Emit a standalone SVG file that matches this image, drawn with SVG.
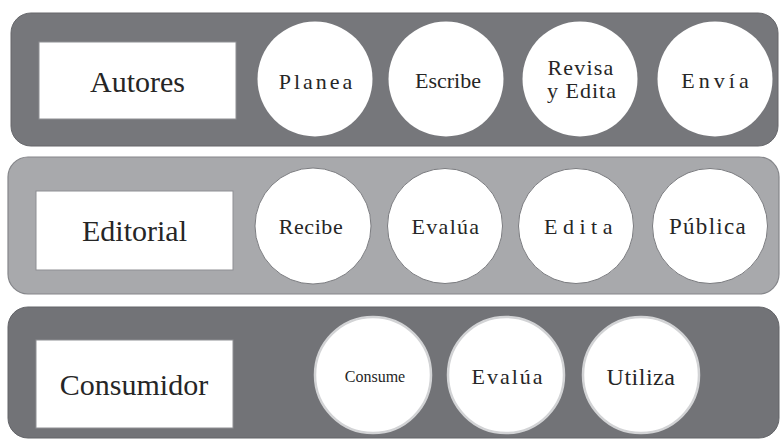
<svg xmlns="http://www.w3.org/2000/svg" width="780" height="439" viewBox="0 0 780 439">
<style>
text{font-family:'Liberation Serif','Times New Roman',serif;fill:#262626;text-anchor:middle}
.lbl{font-size:30px}
.c{font-size:22px}
.band1{fill:#76777b;stroke:#66676b;stroke-width:1}
.band2{fill:#a8a9ac;stroke:#85868a;stroke-width:1.2}
.band3{fill:#727377;stroke:#636468;stroke-width:1}
.box{fill:#ffffff;stroke:#8e8f93;stroke-width:1}
.c1{fill:#ffffff}
.c2{fill:#ffffff;stroke:#7b7c80;stroke-width:1}
.c3{fill:#ffffff;stroke:#d2d3d5;stroke-width:2.5}
</style>
<rect x="0" y="0" width="780" height="439" fill="#ffffff"/>
<g id="band-autores">
<rect class="band1" x="11" y="13" width="767" height="133" rx="20"/>
</g>
<g id="band-editorial">
<rect class="band2" x="8" y="157" width="771" height="137" rx="20"/>
</g>
<g id="band-consumidor">
<rect class="band3" x="8" y="307" width="771" height="131" rx="20"/>
</g>
<g id="connectors"></g>
<g id="autores">
<rect class="box" x="39" y="42" width="197" height="77"/>
<text class="lbl" x="137.5" y="92">Autores</text>
</g>
<g id="planea">
<circle class="c1" cx="315" cy="79" r="57.5"/>
<text class="c" x="317" y="89" style="letter-spacing:3px">Planea</text>
</g>
<g id="escribe">
<circle class="c1" cx="446" cy="79" r="57.5"/>
<text class="c" x="448" y="88">Escribe</text>
</g>
<g id="revisa">
<circle class="c1" cx="580" cy="79" r="57.5"/>
<text class="c" x="581" y="75" style="letter-spacing:1.2px">Revisa</text>
<text class="c" x="582" y="98" style="letter-spacing:1px">y Edita</text>
</g>
<g id="envia">
<circle class="c1" cx="715" cy="79" r="57.5"/>
<text class="c" x="717" y="88" style="letter-spacing:4px">Envía</text>
</g>
<g id="editorial">
<rect class="box" x="36" y="191" width="197" height="79"/>
<text class="lbl" x="134.5" y="241">Editorial</text>
</g>
<g id="recibe">
<circle class="c2" cx="313" cy="226" r="58"/>
<text class="c" x="311" y="234" style="letter-spacing:0.6px">Recibe</text>
</g>
<g id="evalua-ed">
<circle class="c2" cx="445" cy="226" r="57.5"/>
<text class="c" x="446" y="234" style="letter-spacing:1.3px">Evalúa</text>
</g>
<g id="edita">
<circle class="c2" cx="576" cy="226" r="57.5"/>
<text class="c" x="581" y="234" style="letter-spacing:5.5px">Edita</text>
</g>
<g id="publica">
<circle class="c2" cx="710" cy="226" r="57.5"/>
<text class="c" x="708" y="234" style="font-size:23px;letter-spacing:1.3px">Pública</text>
</g>
<g id="consumidor">
<rect class="box" x="36" y="340" width="197" height="88"/>
<text class="lbl" x="134" y="395">Consumidor</text>
</g>
<g id="consume">
<circle class="c3" cx="373" cy="375" r="58"/>
<text x="375" y="382" style="font-size:16px">Consume</text>
</g>
<g id="evalua-co">
<circle class="c3" cx="506" cy="375" r="58"/>
<text class="c" x="508" y="384" style="letter-spacing:2px">Evalúa</text>
</g>
<g id="utiliza">
<circle class="c3" cx="641" cy="375" r="58"/>
<text class="c" x="641" y="385" style="font-size:24px;letter-spacing:0.5px">Utiliza</text>
</g>
</svg>
